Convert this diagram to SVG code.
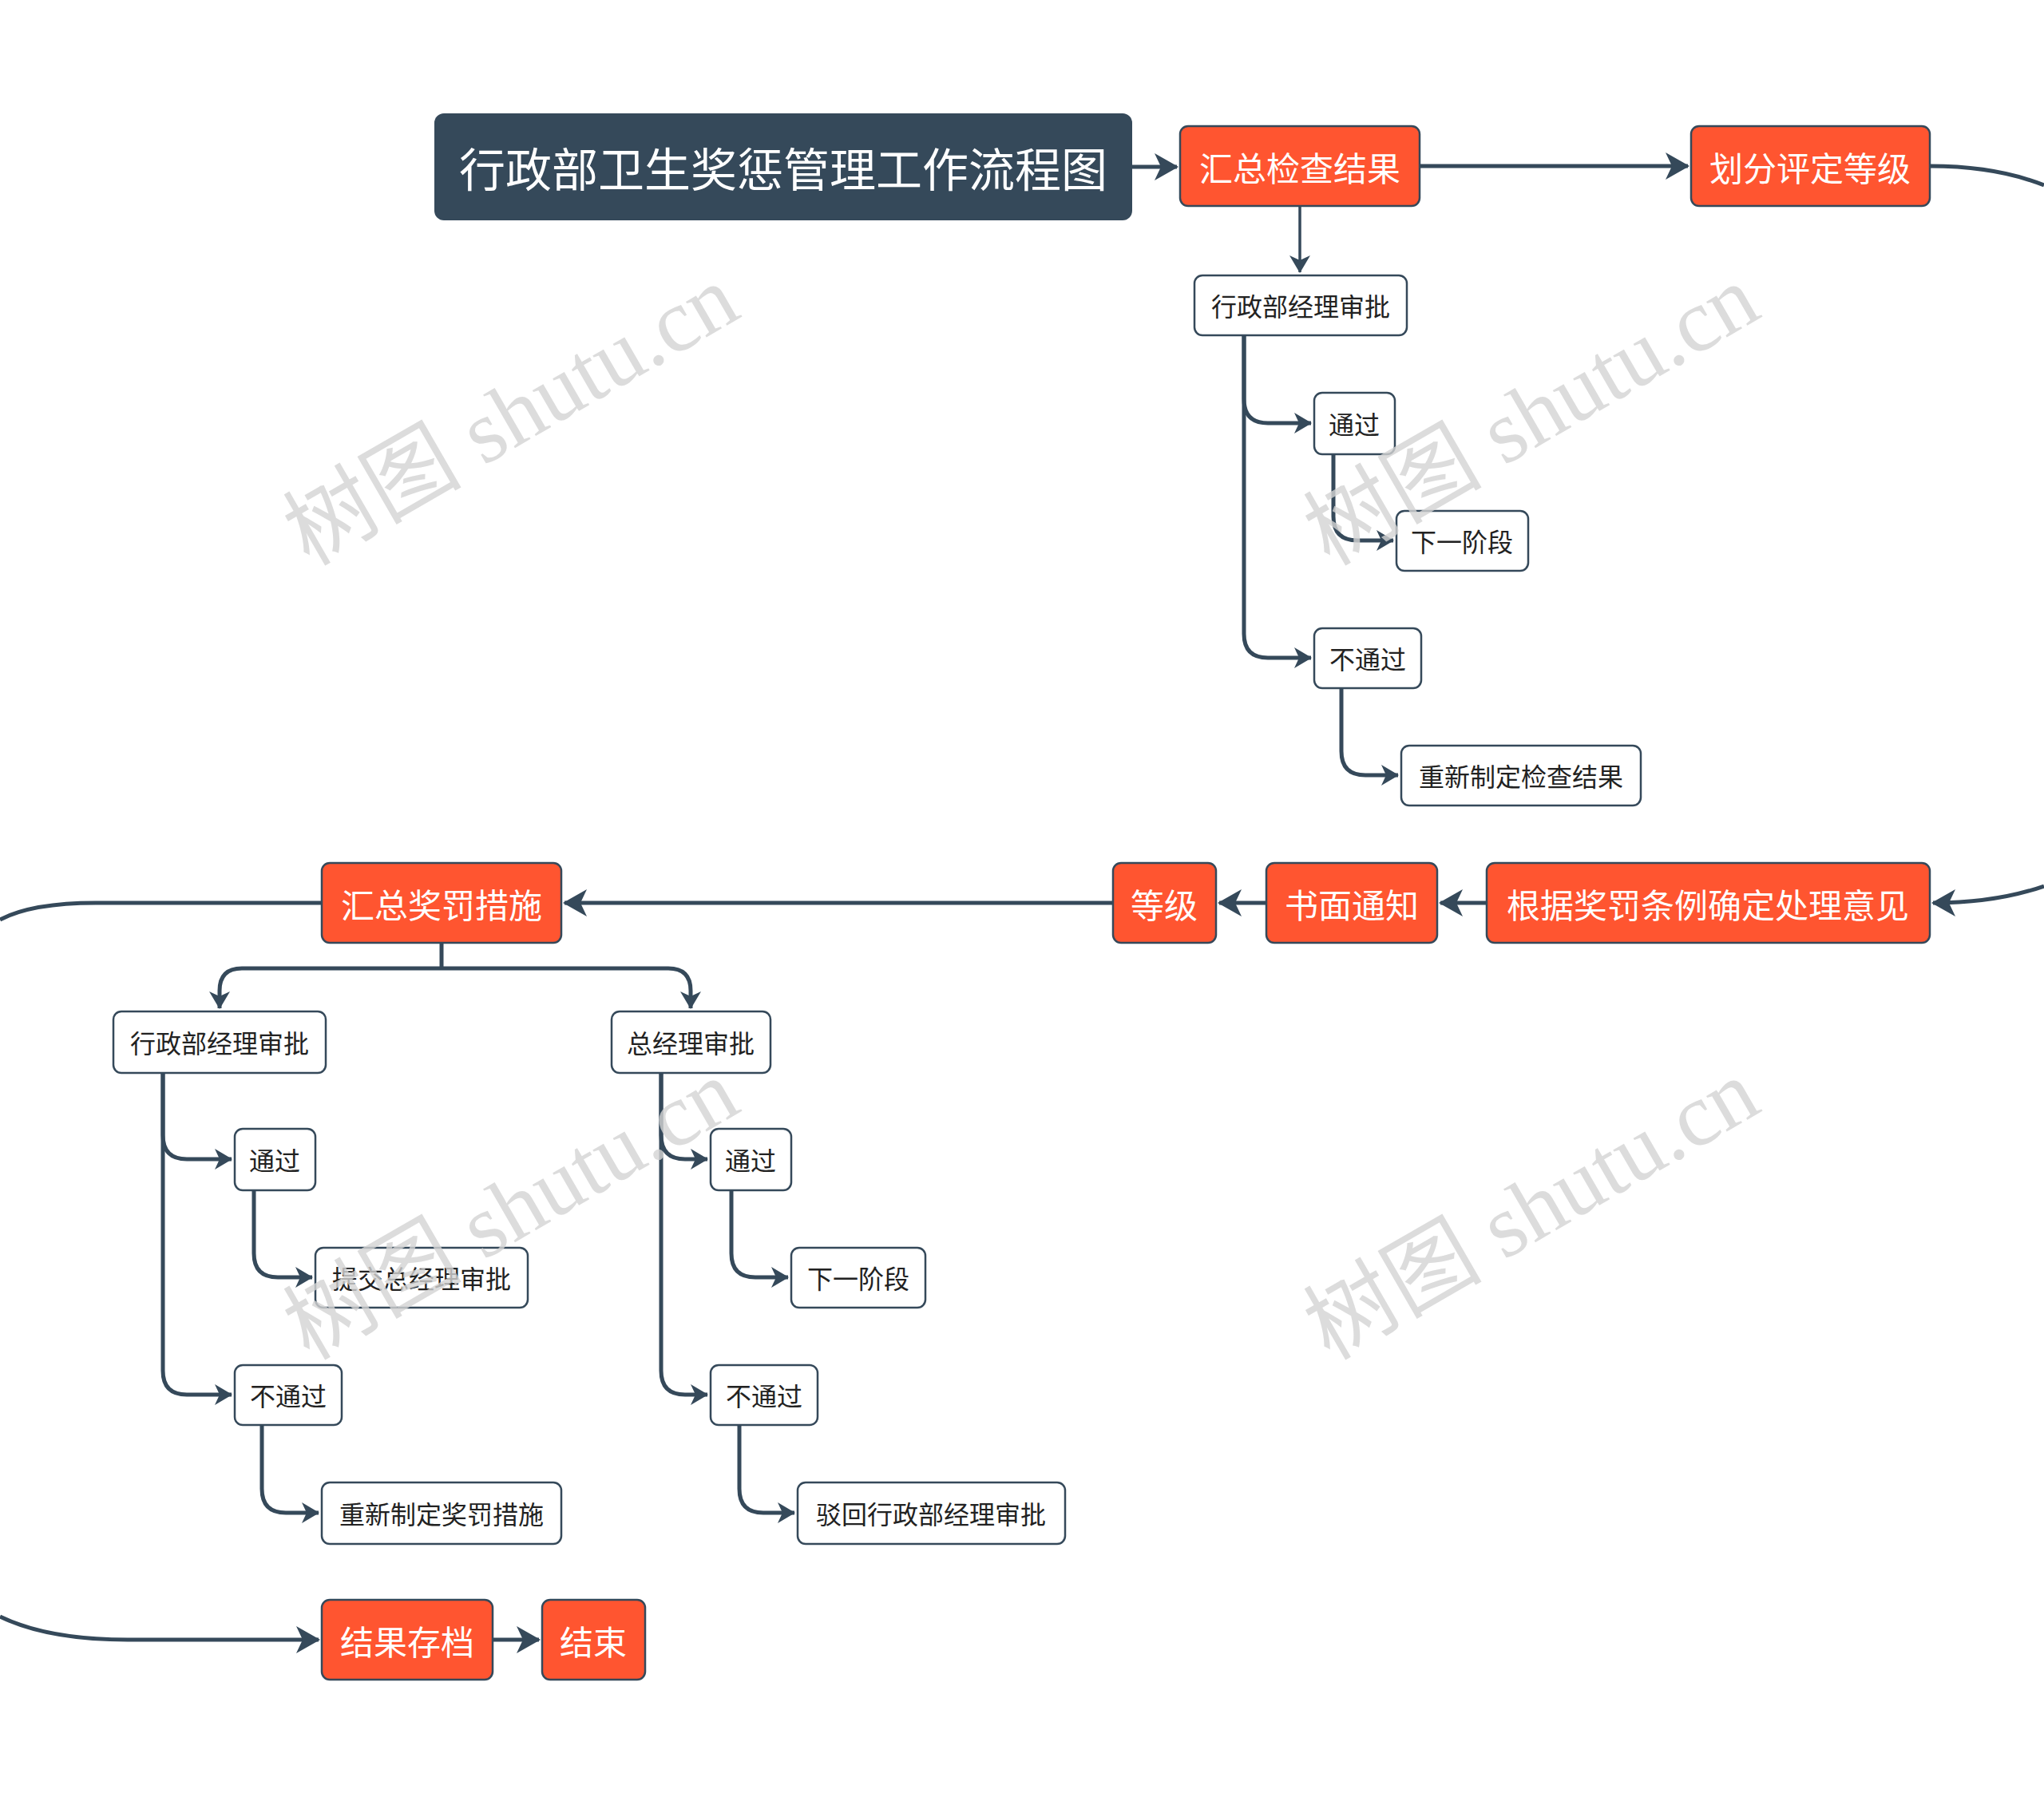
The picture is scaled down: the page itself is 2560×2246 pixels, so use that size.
<svg xmlns="http://www.w3.org/2000/svg" width="2560" height="2246" viewBox="0 0 2560 2246">
<style>
.r rect{fill:#ff5530;stroke:#35495a;stroke-width:2.5}
.r text{fill:#fff;font-size:42px}
.w rect{fill:#fff;stroke:#35495a;stroke-width:2.5}
.w text{fill:#222;font-size:32px}
text{font-family:"Noto Sans CJK SC","Noto Sans",sans-serif;text-anchor:middle;dominant-baseline:central}
.c path{fill:none;stroke:#35495a;stroke-width:5}
.c path.t{stroke-width:3.5}
.wm{font-family:"Liberation Serif","Noto Sans CJK SC",serif;font-size:112px;fill:#d4d4d4;opacity:0.8}
</style>
<defs>
<marker id="a" markerUnits="userSpaceOnUse" markerWidth="30" markerHeight="34" viewBox="0 0 30 34" refX="28" refY="17" orient="auto"><path d="M0,0 L30,17 L0,34 L8,17 z" fill="#35495a"/></marker>
<marker id="s" markerUnits="userSpaceOnUse" markerWidth="22" markerHeight="26" viewBox="0 0 22 26" refX="21" refY="13" orient="auto"><path d="M0,0 L22,13 L0,26 L6,13 z" fill="#35495a"/></marker>
</defs>
<rect width="2560" height="2246" fill="#fff"/>
<g class="c">
<path d="M1417,209 H1474" marker-end="url(#a)"/>
<path d="M1778,208 H2114" marker-end="url(#a)"/>
<path d="M2417,208 Q2500,208 2560,232"/>
<path d="M2560,1110 Q2500,1131 2421,1131" marker-end="url(#a)"/>
<path d="M1862,1131 H1804" marker-end="url(#a)"/>
<path d="M1586,1131 H1527" marker-end="url(#a)"/>
<path d="M1394,1131 H707" marker-end="url(#a)"/>
<path d="M403,1131 H120 Q40,1131 0,1152"/>
<path d="M0,2025 Q60,2054 160,2054 H399" marker-end="url(#a)"/>
<path d="M617,2054 H675" marker-end="url(#a)"/>
<path class="t" d="M1628,258 V341" marker-end="url(#s)"/>
<path d="M1558,420 V500 Q1558,530 1588,530 H1642" marker-end="url(#s)"/>
<path d="M1558,420 V794 Q1558,824 1588,824 H1642" marker-end="url(#s)"/>
<path d="M1670,569 V647 Q1670,677 1700,677 H1745" marker-end="url(#s)"/>
<path d="M1680,862 V941 Q1680,971 1710,971 H1751" marker-end="url(#s)"/>
<path d="M553,1181 V1213 M553,1213 H303 Q275,1213 275,1241 V1263" marker-end="url(#s)"/>
<path d="M553,1213 H837 Q865,1213 865,1241 V1263" marker-end="url(#s)"/>
<path d="M204,1344 V1422 Q204,1452 234,1452 H290" marker-end="url(#s)"/>
<path d="M204,1344 V1717 Q204,1747 234,1747 H290" marker-end="url(#s)"/>
<path d="M318,1491 V1570 Q318,1600 348,1600 H391" marker-end="url(#s)"/>
<path d="M328,1785 V1865 Q328,1895 358,1895 H399" marker-end="url(#s)"/>
<path d="M828,1344 V1422 Q828,1452 858,1452 H886" marker-end="url(#s)"/>
<path d="M828,1344 V1717 Q828,1747 858,1747 H886" marker-end="url(#s)"/>
<path d="M916,1491 V1570 Q916,1600 946,1600 H987" marker-end="url(#s)"/>
<path d="M926,1785 V1865 Q926,1895 956,1895 H995" marker-end="url(#s)"/>
</g>
<g id="title"><rect x="544" y="142" width="874" height="134" rx="12" fill="#35495a"/><text x="981" y="209" fill="#fff" font-size="58">行政部卫生奖惩管理工作流程图</text></g>
<g id="n1" class="r"><rect x="1478" y="158" width="300" height="100" rx="10"/><text x="1628" y="208">汇总检查结果</text></g>
<g id="n2" class="r"><rect x="2118" y="158" width="299" height="100" rx="10"/><text x="2267" y="208">划分评定等级</text></g>
<g id="n3" class="w"><rect x="1496" y="345" width="266" height="75" rx="10"/><text x="1629" y="382">行政部经理审批</text></g>
<g id="n4" class="w"><rect x="1646" y="492" width="101" height="77" rx="10"/><text x="1696" y="530">通过</text></g>
<g id="n5" class="w"><rect x="1749" y="640" width="165" height="75" rx="10"/><text x="1831" y="677">下一阶段</text></g>
<g id="n6" class="w"><rect x="1646" y="787" width="134" height="75" rx="10"/><text x="1713" y="824">不通过</text></g>
<g id="n7" class="w"><rect x="1755" y="934" width="300" height="75" rx="10"/><text x="1905" y="971">重新制定检查结果</text></g>
<g id="n8" class="r"><rect x="1862" y="1081" width="555" height="100" rx="10"/><text x="2139" y="1131">根据奖罚条例确定处理意见</text></g>
<g id="n9" class="r"><rect x="1586" y="1081" width="214" height="100" rx="10"/><text x="1693" y="1131">书面通知</text></g>
<g id="n10" class="r"><rect x="1394" y="1081" width="129" height="100" rx="10"/><text x="1458" y="1131">等级</text></g>
<g id="n11" class="r"><rect x="403" y="1081" width="300" height="100" rx="10"/><text x="553" y="1131">汇总奖罚措施</text></g>
<g id="n12" class="w"><rect x="142" y="1267" width="266" height="77" rx="10"/><text x="275" y="1305">行政部经理审批</text></g>
<g id="n13" class="w"><rect x="766" y="1267" width="199" height="77" rx="10"/><text x="865" y="1305">总经理审批</text></g>
<g id="n14" class="w"><rect x="294" y="1414" width="101" height="77" rx="10"/><text x="344" y="1452">通过</text></g>
<g id="n15" class="w"><rect x="395" y="1563" width="266" height="75" rx="10"/><text x="528" y="1600">提交总经理审批</text></g>
<g id="n16" class="w"><rect x="294" y="1710" width="134" height="75" rx="10"/><text x="361" y="1747">不通过</text></g>
<g id="n17" class="w"><rect x="403" y="1857" width="300" height="77" rx="10"/><text x="553" y="1895">重新制定奖罚措施</text></g>
<g id="n18" class="w"><rect x="890" y="1414" width="101" height="77" rx="10"/><text x="940" y="1452">通过</text></g>
<g id="n19" class="w"><rect x="991" y="1563" width="168" height="75" rx="10"/><text x="1075" y="1600">下一阶段</text></g>
<g id="n20" class="w"><rect x="890" y="1710" width="134" height="75" rx="10"/><text x="957" y="1747">不通过</text></g>
<g id="n21" class="w"><rect x="999" y="1857" width="335" height="77" rx="10"/><text x="1166" y="1895">驳回行政部经理审批</text></g>
<g id="n22" class="r"><rect x="403" y="2004" width="214" height="100" rx="10"/><text x="510" y="2054">结果存档</text></g>
<g id="n23" class="r"><rect x="679" y="2004" width="129" height="100" rx="10"/><text x="743" y="2054">结束</text></g>
<g id="watermarks">
<text class="wm" transform="translate(640,520) rotate(-30)">树图 shutu.cn</text>
<text class="wm" transform="translate(1918,520) rotate(-30)">树图 shutu.cn</text>
<text class="wm" transform="translate(640,1515) rotate(-30)">树图 shutu.cn</text>
<text class="wm" transform="translate(1918,1515) rotate(-30)">树图 shutu.cn</text>
</g>
</svg>
